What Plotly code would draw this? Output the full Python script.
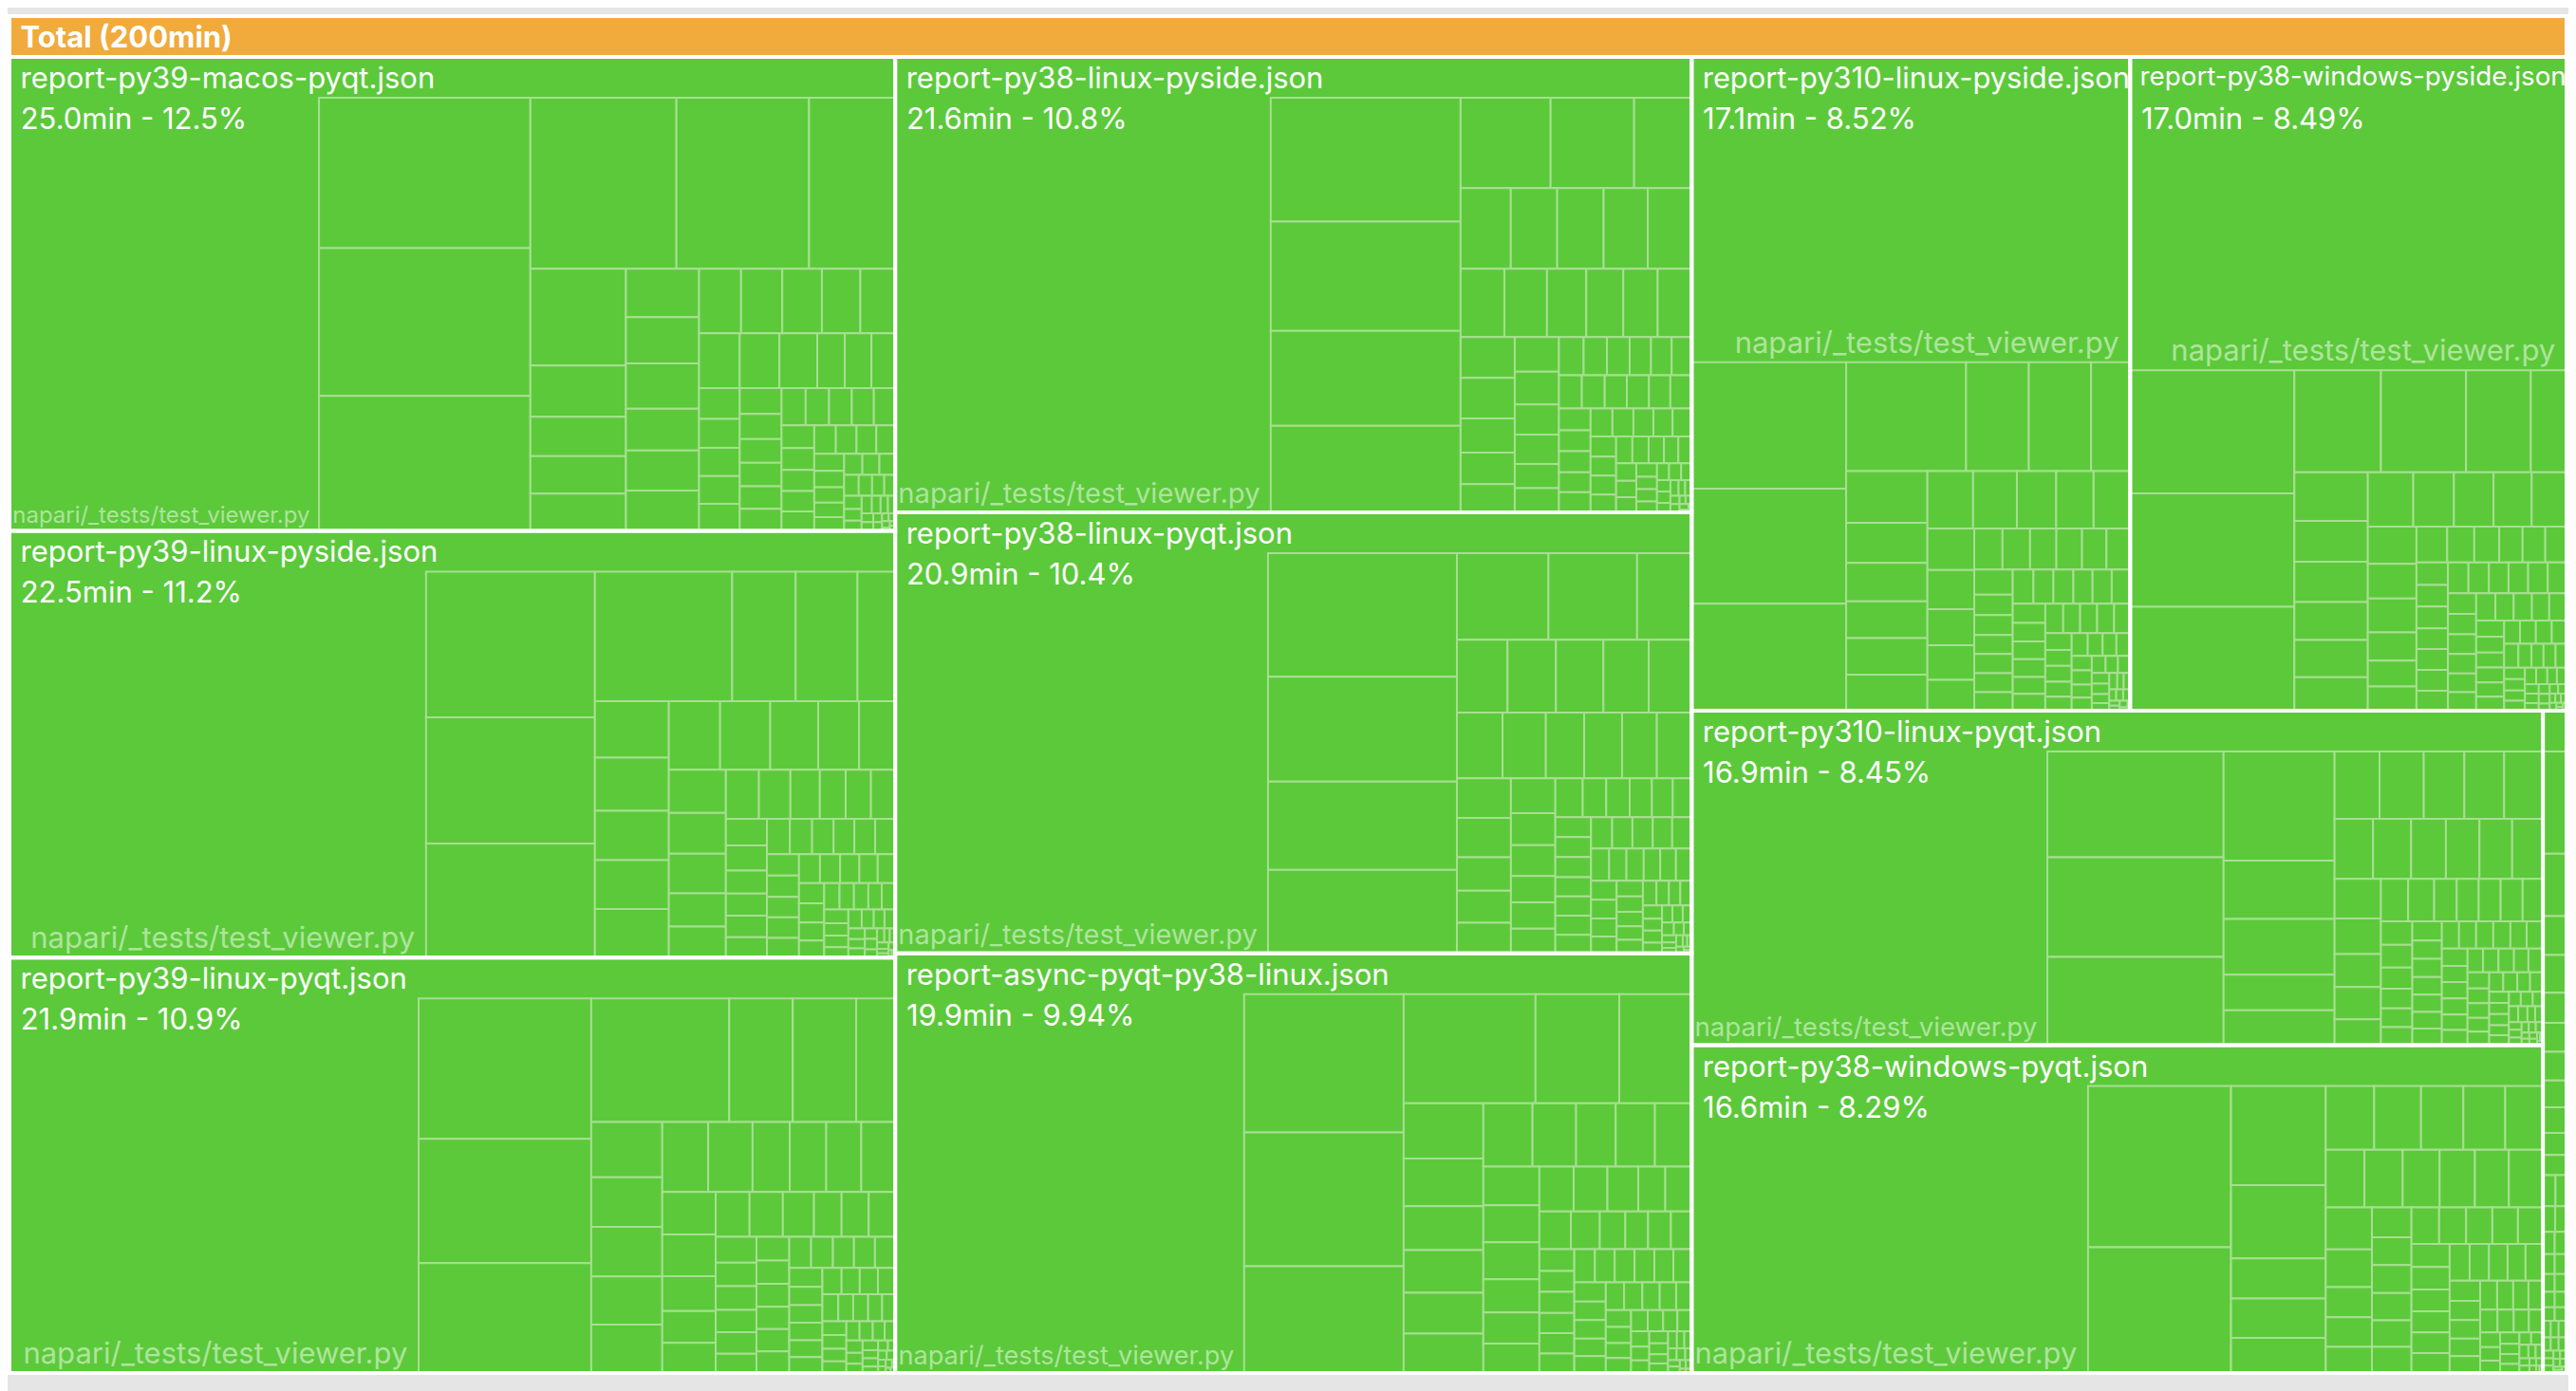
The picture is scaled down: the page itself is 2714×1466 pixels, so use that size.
import plotly.graph_objects as go

# ---------------- data ----------------
total_label = "Total (200min)"
largest_file = "napari/_tests/test_viewer.py"

report_names = [
    "report-py39-macos-pyqt.json",
    "report-py39-linux-pyside.json",
    "report-py39-linux-pyqt.json",
    "report-py38-linux-pyside.json",
    "report-async-pyqt-py38-linux.json",
    "report-py38-linux-pyqt.json",
    "report-py310-linux-pyside.json",
    "report-py38-windows-pyside.json",
    "report-py310-linux-pyqt.json",
    "report-py38-windows-pyqt.json",
    "report-py39-linux-headless.json",
]
report_minutes = [25.0, 22.5, 21.9, 21.6, 19.9, 20.9, 17.1, 17.0, 16.9, 16.6, 0.9]
report_percent = ["12.5", "11.2", "10.9", "10.8", "9.94", "10.4", "8.52", "8.49", "8.45", "8.29", "0.47"]
report_label_visible = [True, True, True, True, True, True, True, True, True, True, False]

# test-file durations per report, seconds (first entry = napari/_tests/test_viewer.py)
files_r1 = [524, 124.3, 122.0, 111.5, 97.7, 88.7, 57.6, 36.1, 19.2, 14.7, 13.2, 14.0, 13.9, 13.8, 13.0,
            11.9, 11.5, 11.5, 10.6, 10.4, 10.0, 9.7, 8.7, 8.8, 8.5, 8.1, 5.7, 5.9, 5.1, 4.9, 4.6,
            4.5, 4.4, 4.3, 4.2, 4.1, 3.9, 3.8, 3.7, 3.6, 3.5, 3.4, 3.3, 3.2, 3.1, 2.9, 2.8, 2.7, 2.6,
            2.5, 2.4, 2.3, 2.2, 2.1, 2.0, 1.9, 1.8, 1.7, 1.6, 1.5, 1.4, 1.3, 1.2, 1.1, 1.0, 0.9, 0.9,
            0.8, 0.7, 0.7, 0.6, 0.5, 0.5, 0.4, 0.4, 0.3, 0.3, 0.2, 0.2, 0.2, 0.1, 0.1, 0.1]
files_r2 = [635, 97.2, 84.1, 76.1, 70.2, 32.5, 31.6, 19.3, 16.5, 15.5, 14.4, 14.3, 14.2, 13.9, 13.6, 13.0,
            11.1, 9.8, 9.7, 9.2, 8.9, 7.5, 7.0, 6.4, 6.1, 5.7, 5.0, 4.9, 4.7, 4.3, 4.1, 3.7, 3.6, 3.5,
            3.3, 3.2, 3.1, 3.0, 2.9, 2.9, 2.8, 2.7, 2.7, 2.6, 2.6, 2.5, 2.4, 2.3, 2.2, 2.1, 2.0, 2.0,
            1.9, 1.8, 1.7, 1.6, 1.5, 1.5, 1.4, 1.4, 1.3, 1.2, 1.1, 1.0, 1.0, 0.9, 0.8, 0.8, 0.7, 0.6,
            0.6, 0.5, 0.5, 0.4, 0.4, 0.3, 0.3, 0.3, 0.2, 0.2, 0.2, 0.1, 0.1]
files_r3 = [607, 96.0, 85.0, 75.1, 67.6, 31.1, 31.1, 19.1, 15.5, 14.0, 13.9, 13.6, 13.6, 12.7, 12.3, 10.1,
            10.3, 9.7, 9.4, 8.8, 9.0, 7.4, 6.7, 6.4, 6.0, 5.9, 5.5, 4.8, 4.9, 4.7, 4.2, 3.8, 3.8, 3.6,
            3.5, 3.1, 3.1, 3.0, 3.0, 2.9, 2.9, 2.8, 2.7, 2.7, 2.6, 2.6, 2.5, 2.5, 2.4, 2.3, 2.3, 2.2,
            2.1, 2.0, 1.9, 1.9, 1.8, 1.7, 1.6, 1.6, 1.5, 1.4, 1.3, 1.3, 1.2, 1.1, 1.0, 1.0, 0.9, 0.8,
            0.8, 0.7, 0.6, 0.6, 0.5, 0.5, 0.4, 0.4, 0.3, 0.3, 0.3, 0.2, 0.2, 0.2, 0.1, 0.1, 0.1]
files_r4 = [611, 92.3, 81.5, 70.7, 64.5, 31.9, 29.6, 20.4, 15.9, 14.7, 14.7, 14.0, 13.9, 11.7, 11.4, 10.5,
            9.9, 9.1, 9.2, 8.6, 8.7, 7.3, 6.7, 5.7, 6.0, 6.0, 5.2, 5.1, 4.2, 4.2, 3.7, 3.1, 3.5, 3.4,
            3.2, 3.0, 3.0, 3.0, 2.9, 2.9, 2.8, 2.8, 2.7, 2.6, 2.6, 2.5, 2.5, 2.4, 2.3, 2.2, 2.1, 2.1,
            2.0, 1.9, 1.9, 1.8, 1.7, 1.7, 1.6, 1.5, 1.4, 1.4, 1.3, 1.2, 1.1, 1.0, 1.0, 0.9, 0.8, 0.8,
            0.7, 0.6, 0.6, 0.5, 0.5, 0.4, 0.4, 0.3, 0.3, 0.2, 0.2, 0.2, 0.1, 0.1]
files_r5 = [523, 87.4, 84.4, 67.4, 57.0, 36.2, 31.3, 17.4, 15.0, 13.9, 13.4, 12.3, 12.9, 12.4, 10.9, 9.9,
            9.8, 9.2, 8.6, 8.2, 8.2, 7.4, 6.9, 6.5, 6.1, 6.0, 5.5, 4.8, 4.7, 4.7, 4.3, 3.8, 3.4, 3.4,
            3.1, 2.6, 3.0, 2.9, 2.9, 2.8, 2.8, 2.7, 2.7, 2.6, 2.6, 2.5, 2.4, 2.4, 2.3, 2.3, 2.2, 2.1,
            2.0, 2.0, 1.9, 1.8, 1.7, 1.7, 1.6, 1.5, 1.5, 1.4, 1.3, 1.2, 1.2, 1.1, 1.0, 0.9, 0.9, 0.8,
            0.7, 0.7, 0.6, 0.5, 0.5, 0.4, 0.4, 0.3, 0.3, 0.3, 0.2, 0.2, 0.1, 0.1]
files_r6 = [587, 91.9, 77.9, 65.7, 62.0, 31.2, 30.2, 18.6, 14.5, 13.6, 13.9, 13.0, 12.3, 11.8, 11.2, 9.9,
            9.8, 9.0, 9.0, 8.4, 8.4, 7.1, 6.8, 6.1, 6.5, 5.6, 5.4, 4.6, 4.6, 4.3, 4.2, 3.6, 3.6, 3.4,
            3.2, 2.8, 2.9, 2.8, 2.8, 2.7, 2.7, 2.7, 2.6, 2.6, 2.5, 2.5, 2.4, 2.4, 2.3, 2.2, 2.2, 2.1,
            2.0, 2.0, 1.9, 1.9, 1.8, 1.7, 1.6, 1.6, 1.5, 1.4, 1.4, 1.3, 1.2, 1.1, 1.1, 1.0, 0.9, 0.9,
            0.8, 0.7, 0.7, 0.6, 0.6, 0.5, 0.4, 0.4, 0.3, 0.3, 0.3, 0.2, 0.2, 0.2, 0.1, 0.1]
files_r7 = [442, 74.3, 67.8, 62.9, 49.7, 26.0, 25.8, 16.0, 16.2, 12.4, 11.9, 11.3, 11.4, 11.2, 10.0, 9.6,
            8.6, 8.2, 8.0, 7.0, 7.4, 6.4, 6.2, 5.5, 4.3, 4.4, 3.8, 3.7, 4.0, 4.1, 3.7, 3.0, 2.9, 2.8,
            2.8, 2.2, 2.8, 2.7, 2.7, 2.6, 2.6, 2.5, 2.5, 2.4, 2.4, 2.3, 2.2, 2.1, 2.1, 2.0, 1.9, 1.9,
            1.9, 1.8, 1.7, 1.6, 1.6, 1.5, 1.4, 1.4, 1.3, 1.2, 1.2, 1.1, 1.1, 1.0, 1.0, 0.9, 0.8, 0.8,
            0.7, 0.7, 0.6, 0.5, 0.5, 0.4, 0.4, 0.3, 0.3, 0.3, 0.2, 0.2, 0.2, 0.1, 0.1]
files_r8 = [453, 77.0, 71.0, 65.0, 33.1, 33.7, 25.2, 13.9, 13.6, 11.4, 11.3, 10.6, 10.4, 9.4, 9.4, 8.2,
            8.4, 7.9, 7.2, 6.4, 6.9, 6.3, 5.2, 4.5, 4.8, 4.2, 3.7, 3.4, 3.1, 3.2, 2.9, 2.7, 2.5,
            2.6, 2.6, 2.5, 2.5, 2.4, 2.4, 2.4, 2.3, 2.3, 2.3, 2.2, 2.2, 2.2, 2.1, 2.1, 2.0, 2.0, 2.0,
            1.9, 1.9, 1.8, 1.8, 1.7, 1.7, 1.6, 1.6, 1.5, 1.5, 1.4, 1.4, 1.4, 1.3, 1.3, 1.2, 1.1, 1.1,
            1.0, 0.9, 0.9, 0.8, 0.8, 0.7, 0.7, 0.6, 0.6, 0.5, 0.5, 0.4, 0.4, 0.4, 0.3, 0.3, 0.3, 0.2,
            0.2, 0.2, 0.2, 0.1, 0.1, 0.1]
files_r9 = [425, 75.8, 71.5, 63.3, 49.3, 26.3, 25.2, 16.0, 15.8, 12.3, 12.1, 11.1, 10.9, 10.6, 9.4, 9.3,
            8.5, 8.2, 8.0, 7.5, 7.5, 6.7, 6.2, 6.1, 4.9, 4.7, 4.5, 3.9, 3.8, 3.8, 3.8, 3.5, 3.0, 2.9,
            2.7, 2.5, 2.4, 2.3, 2.3, 2.2, 2.2, 2.1, 2.1, 2.0, 2.0, 1.9, 1.9, 1.9, 1.9, 1.8, 1.8, 1.8,
            1.7, 1.7, 1.7, 1.6, 1.6, 1.5, 1.5, 1.5, 1.4, 1.4, 1.4, 1.3, 1.3, 1.2, 1.2, 1.1, 1.1, 1.0,
            1.0, 0.9, 0.9, 0.9, 0.8, 0.8, 0.7, 0.7, 0.6, 0.6, 0.6, 0.5, 0.5, 0.4, 0.4, 0.4, 0.3, 0.3,
            0.3, 0.2, 0.2, 0.2, 0.2, 0.1, 0.1, 0.1]
files_r10 = [464, 94.1, 73.3, 38.3, 28.3, 15.5, 15.2, 13.6, 12.6, 12.2, 11.0, 10.9, 9.8, 9.1, 9.0, 8.7,
             8.3, 8.0, 8.0, 7.9, 7.1, 5.6, 5.7, 4.9, 4.8, 4.5, 4.5, 4.4, 4.3, 4.2, 4.1, 4.0, 3.9, 3.8,
             3.7, 3.6, 3.5, 3.4, 3.3, 3.2, 3.1, 3.0, 2.9, 2.8, 2.7, 2.6, 2.5, 2.4, 2.3, 2.2, 2.1, 2.0,
             1.9, 1.8, 1.7, 1.6, 1.5, 1.4, 1.3, 1.2, 1.1, 1.0, 0.9, 0.8, 0.8, 0.7, 0.6, 0.6, 0.5, 0.4,
             0.4, 0.3, 0.3, 0.2, 0.2, 0.2, 0.1, 0.1]
files_r11 = [9.2, 5.6, 3.5, 3.4, 2.7, 2.6, 2.6, 2.4, 2.3, 2.0, 1.8, 1.5, 1.3, 1.2, 1.1, 1.0, 1.0, 0.9,
             0.9, 0.8, 0.8, 0.7, 0.7, 0.6, 0.6, 0.5, 0.5, 0.5, 0.4, 0.4, 0.4, 0.3, 0.3, 0.3, 0.2, 0.2,
             0.2, 0.2, 0.1, 0.1, 0.1]
report_files = [files_r1, files_r2, files_r3, files_r4, files_r5, files_r6, files_r7,
                files_r8, files_r9, files_r10, files_r11]

# ---------------- styling ----------------
ORANGE = "#f1aa3c"
GREEN = "#5cc93b"
LIGHT = "#a6df90"
LABEL_LIGHT = "#ade49b"
BG = "#e5e5e5"
FONT = "Inter"
NB = "\u00a0"
HAIR = "\u200a"
HEADER = 43

ids, labels, parents, values = [], [], [], []
colors_a, lw_a, text_a = [], [], []
colors_b, lw_b, text_b = [], [], []

ids.append("total"); labels.append(NB + HAIR + "<b>" + total_label + "</b>"); parents.append(""); values.append(0)
colors_a.append(ORANGE); lw_a.append(0); text_a.append("")
colors_b.append("rgba(0,0,0,0)"); lw_b.append(4); text_b.append("")

for i, name in enumerate(report_names):
    rid = "r%d" % i
    ids.append(rid)
    labels.append(NB + HAIR + name if report_label_visible[i] else NB)
    parents.append("total"); values.append(0)
    colors_a.append(GREEN); lw_a.append(0); text_a.append("")
    colors_b.append("rgba(0,0,0,0)"); lw_b.append(4); text_b.append("")
    for j, sec in enumerate(report_files[i]):
        ids.append("%s/f%d" % (rid, j))
        labels.append(largest_file if (j == 0 and report_label_visible[i]) else "test file %d" % j)
        parents.append(rid)
        values.append(sec / 60.0)
        colors_a.append(GREEN)
        colors_b.append("rgba(0,0,0,0)")
        lw_b.append(0)
        if j == 0 and report_label_visible[i]:
            lw_a.append(0)
            text_a.append(NB + "%.1fmin - %s%%" % (report_minutes[i], report_percent[i]))
            text_b.append(largest_file + NB)
        else:
            lw_a.append(2)
            text_a.append("")
            text_b.append("")

common = dict(
    ids=ids, labels=labels, parents=parents, values=values,
    branchvalues="remainder", sort=True,
    tiling=dict(packing="squarify", squarifyratio=1.618, pad=0),
    pathbar=dict(visible=False),
    textinfo="text",
    hoverinfo="label+value",
)

trace_a = go.Treemap(
    **common,
    text=text_a,
    textposition="top left",
    marker=dict(colors=colors_a, line=dict(color=LIGHT, width=lw_a),
                pad=dict(t=HEADER, l=0, r=0, b=0), depthfade=False),
    insidetextfont=dict(family=FONT, size=31, color="white"),
    outsidetextfont=dict(family=FONT, size=31, color="white"),
    textfont=dict(family=FONT, size=31, color="white"),
)
trace_b = go.Treemap(
    **common,
    text=text_b,
    textposition="bottom right",
    marker=dict(colors=colors_b, line=dict(color="white", width=lw_b),
                pad=dict(t=HEADER, l=0, r=0, b=0), depthfade=False),
    insidetextfont=dict(family=FONT, size=31, color=LABEL_LIGHT),
    outsidetextfont=dict(family=FONT, size=31, color=LABEL_LIGHT),
    textfont=dict(family=FONT, size=31, color=LABEL_LIGHT),
)

fig = go.Figure([trace_a, trace_b])
fig.update_layout(
    width=2714, height=1466,
    margin=dict(l=2, r=18, t=9, b=27),
    paper_bgcolor=BG, plot_bgcolor=BG,
    font=dict(family=FONT, size=31, color="white"),
    showlegend=False,
)
fig.write_html("out.html")
